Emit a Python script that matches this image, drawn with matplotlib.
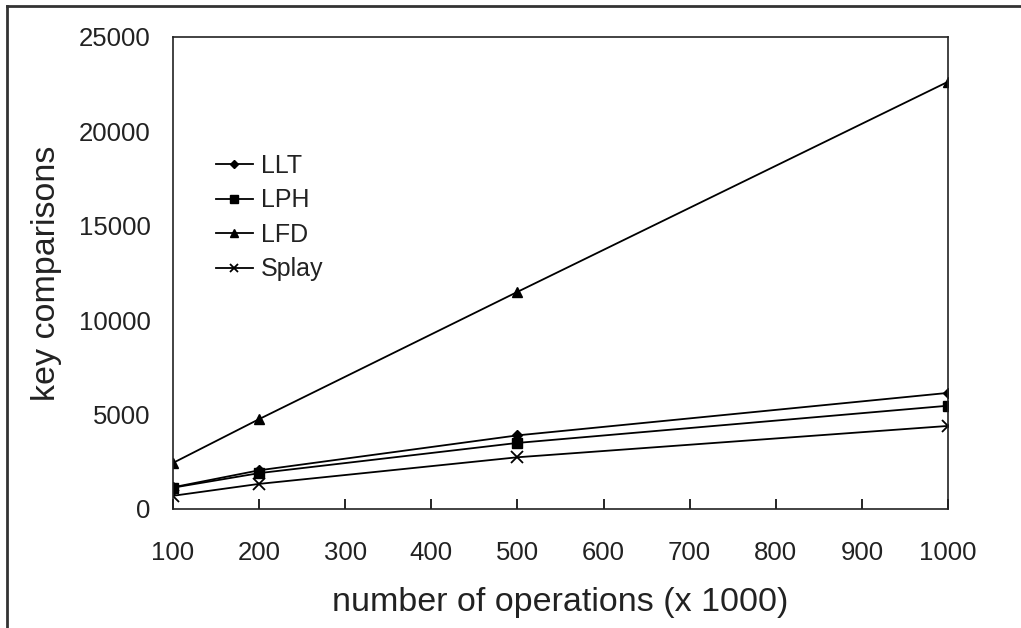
import matplotlib.pyplot as plt
from matplotlib.lines import Line2D

# values
operations = [100, 200, 500, 1000]
llt = [1150, 2050, 3900, 6150]
lph = [1130, 1900, 3500, 5470]
lfd = [2440, 4760, 11500, 22630]
splay = [700, 1330, 2740, 4400]
yticks = [0, 5000, 10000, 15000, 20000, 25000]
xticks = [100, 200, 300, 400, 500, 600, 700, 800, 900, 1000]

plt.rcParams['font.family'] = ['Liberation Sans', 'DejaVu Sans']

fig = plt.figure(figsize=(10.21, 6.28), dpi=100)
ax = fig.add_axes([173 / 1021, 1 - 509 / 628, 775 / 1021, 472 / 628])

ax.plot(operations, llt, color='black', lw=1.3, marker='D', ms=5, label='LLT')
ax.plot(operations, lph, color='black', lw=1.3, marker='s', ms=7, label='LPH')
ax.plot(operations, lfd, color='black', lw=1.3, marker='^', ms=7, label='LFD')
ax.plot(operations, splay, color='black', lw=1.3, marker='x', ms=8, mew=1.3, label='Splay')

ax.set_xlim(100, 1000)
ax.set_ylim(0, 25000)
ax.set_xticks(xticks)
ax.set_yticks(yticks)
ax.tick_params(axis='both', direction='in', length=7, labelsize=18.5, width=1.2,
               labelcolor='#222222')
ax.tick_params(axis='x', pad=23)
ax.tick_params(axis='y', length=0, pad=16)
for s in ax.spines.values():
    s.set_linewidth(1.2)
    s.set_color('#222222')

ax.set_xlabel('number of operations (x 1000)', fontsize=24.5, labelpad=16, color='#222222')
ax.set_ylabel('key comparisons', fontsize=24.5, labelpad=12, color='#222222')

ax.legend(loc='upper left', bbox_to_anchor=(0.026, 0.80), frameon=False,
          fontsize=18, handlelength=1.5, handletextpad=0.3, labelspacing=0.42,
          markerscale=0.8, labelcolor='#222222')

# outer frame around the whole figure (cut off on right and bottom)
fig.add_artist(Line2D([7 / 1021, 7 / 1021], [0, 1 - 6 / 628], color='#333333', lw=2,
                      transform=fig.transFigure))
fig.add_artist(Line2D([7 / 1021, 1], [1 - 6 / 628, 1 - 6 / 628], color='#333333', lw=2,
                      transform=fig.transFigure))

fig.savefig('out.png', dpi=100)
